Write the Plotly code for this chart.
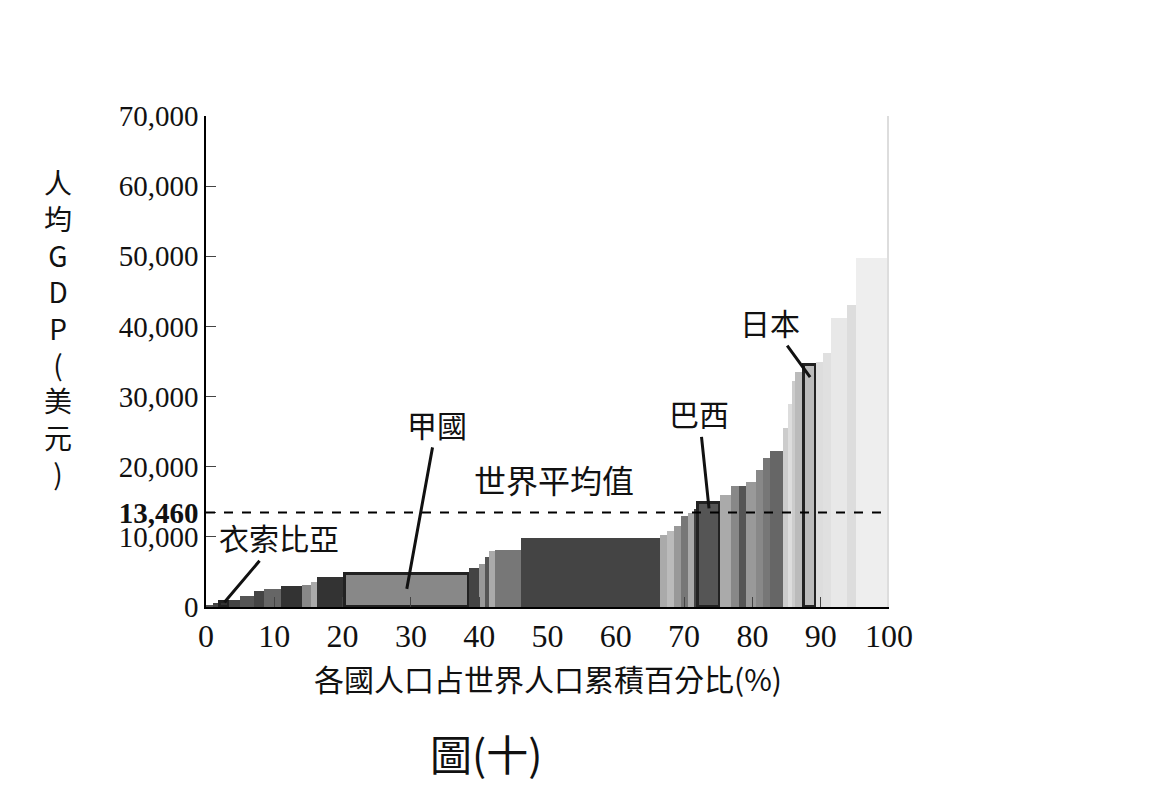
import plotly.graph_objects as go

# cumulative population % (left edges), GDP per capita, gray shade
left_edges = [0.0, 1.0, 2.0, 3.4, 5.0, 7.0, 8.5, 11.0, 14.0, 15.4, 16.3, 20.3, 38.5, 40.0, 40.8, 41.5, 42.3,
              46.1, 66.5, 67.5, 68.5, 69.5, 70.5, 71.5, 72.0, 75.3, 76.8, 78.0, 79.0, 80.5, 81.5, 82.6,
              84.5, 85.2, 85.8, 86.3, 87.6, 89.3, 90.3, 91.5, 93.9, 95.1, 99.7]
right_end = 100.0
gdp = [300, 500, 700, 1000, 1500, 2300, 2600, 3000, 3200, 3500, 4300, 4700, 5500, 6200, 7200, 8000, 8100,
       9800, 10300, 10800, 11500, 13000, 13400, 14000, 14800, 16000, 17300, 17200, 17800, 19500, 21200, 22200,
       25500, 29000, 32200, 33500, 34500, 35000, 36200, 41200, 43000, 49700, 70000]
grays = ["#555", "#444", "#333", "#444", "#555", "#444", "#666", "#333", "#888", "#aaa", "#333", "#888",
         "#444", "#999", "#555", "#aaa", "#777", "#444", "#aaa", "#bbb", "#999", "#777", "#aaa", "#444",
         "#555", "#aaa", "#888", "#555", "#999", "#888", "#777", "#666", "#ccc", "#ddd", "#ccc", "#bbb",
         "#bbb", "#ddd", "#e0e0e0", "#e8e8e8", "#ddd", "#eee", "#ddd"]
highlight = {2: "衣索比亞", 11: "甲國", 24: "巴西", 36: "日本"}
label_offsets = {2: (55, -65), 11: (30, -165), 24: (-10, -95), 36: (-40, -55)}
world_avg = 13460
ytick_vals = [0, 10000, 20000, 30000, 40000, 50000, 60000, 70000]

rights = left_edges[1:] + [right_end]
widths = [r - l for l, r in zip(left_edges, rights)]
centers = [l + w / 2 for l, w in zip(left_edges, widths)]
lw = [3 if i in highlight else 0 for i in range(len(gdp))]

fig = go.Figure(go.Bar(x=centers, y=gdp, width=widths, marker=dict(color=grays,
                       line=dict(color="#222", width=lw)), hoverinfo="skip"))

fig.add_shape(type="line", x0=0, x1=100.5, y0=world_avg, y1=world_avg,
              line=dict(color="black", width=2, dash="dash"))

serif = "Liberation Serif, Times New Roman, serif"
sans = "Noto Sans CJK TC, sans-serif"
for i, name in highlight.items():
    ax, ay = label_offsets[i]
    fig.add_annotation(x=centers[i], y=gdp[i] * (0.95 if i != 11 else 0.55), text=name, showarrow=True,
                       arrowhead=0, arrowwidth=3, arrowcolor="#111", ax=ax, ay=ay,
                       font=dict(family=sans, size=30, color="#111"))
fig.add_annotation(x=51, y=world_avg + 1200, text="世界平均值", showarrow=False, yanchor="bottom",
                   font=dict(family=sans, size=32, color="#111"))

yt_vals = ytick_vals + [world_avg]
yt_text = [f"{v:,}" for v in ytick_vals] + [f"<b>{world_avg:,}</b>"]

fig.update_layout(
    width=1167, height=788, plot_bgcolor="white", paper_bgcolor="white", showlegend=False,
    margin=dict(l=198, r=286, t=108, b=189, autoexpand=False), bargap=0,
    xaxis=dict(range=[0, 100], tickvals=list(range(0, 101, 10)), ticks="inside", ticklen=10,
               showline=True, linecolor="black", linewidth=1.5, showgrid=False, zeroline=False,
               automargin=False, tickfont=dict(family=serif, size=32, color="#111")),
    yaxis=dict(range=[0, 70000], tickvals=yt_vals, ticktext=yt_text, ticks="inside", ticklen=10,
               showline=True, linecolor="black", linewidth=1.5, showgrid=False, zeroline=False,
               automargin=False, tickfont=dict(family=serif, size=29, color="#111")),
)
fig.add_annotation(xref="paper", yref="paper", x=0.5, y=-0.095, yanchor="top", showarrow=False,
                   text="各國人口占世界人口累積百分比(%)", font=dict(family=sans, size=30, color="#111"))
fig.add_annotation(xref="paper", yref="paper", x=-0.24, y=0.57, showarrow=False,
                   text="<br>".join(list("人均GDP(美元)")), font=dict(family=sans, size=28, color="#111"))
fig.add_annotation(xref="paper", yref="paper", x=0.41, y=-0.23, yanchor="top", showarrow=False,
                   text="圖(十)", font=dict(family=sans, size=42, color="#111"))
fig.add_shape(type="line", xref="paper", yref="paper", x0=-0.29, x1=-0.01, y0=-0.38, y1=-0.38,
              line=dict(color="black", width=1.5))
fig.write_html("out.html")
